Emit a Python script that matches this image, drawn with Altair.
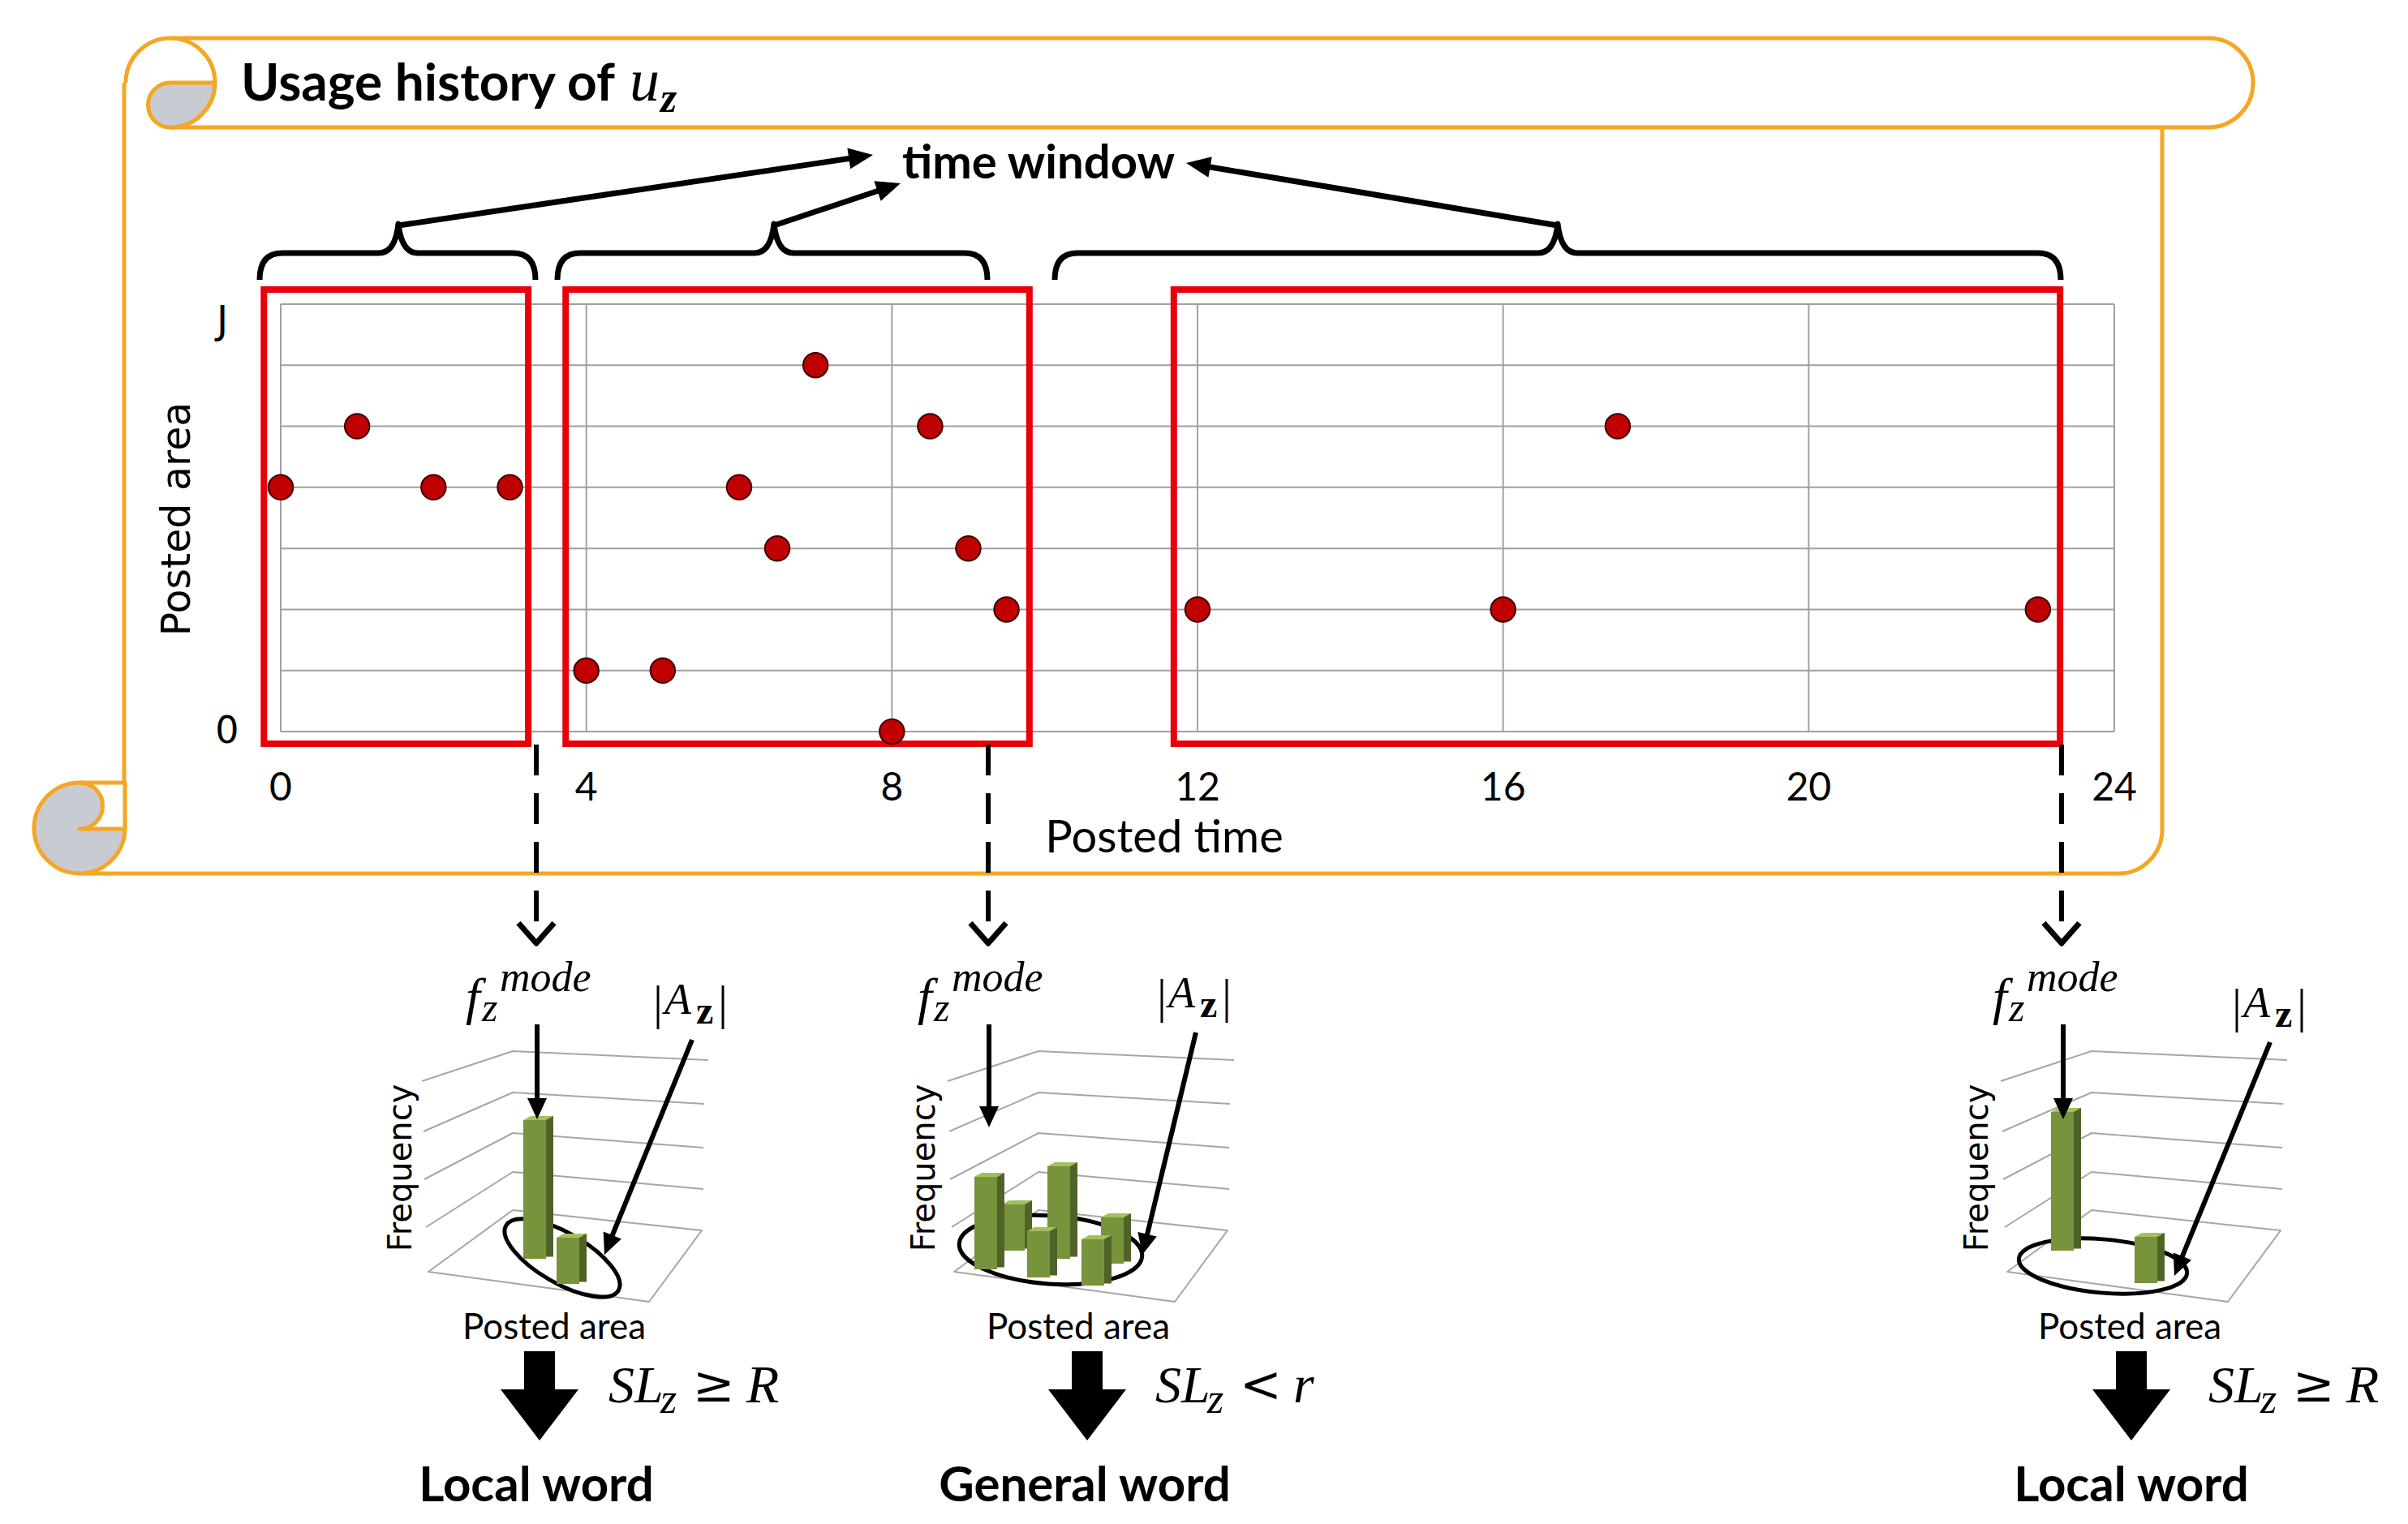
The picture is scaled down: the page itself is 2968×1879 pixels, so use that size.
import math
import altair as alt
import pandas as pd

# ---------------- chart values ----------------
post_time = [0, 1, 2, 3, 4, 5, 6, 6.5, 7, 8, 8.5, 9, 9.5, 12, 16, 17.5, 23]
post_area = [4, 5, 4, 4, 1, 1, 4, 3, 6, 0, 5, 3, 2, 2, 2, 5, 2]
time_ticks = [0, 4, 8, 12, 16, 20, 24]
time_tick_labels = ["0", "4", "8", "12", "16", "20", "24"]
area_levels = [0, 1, 2, 3, 4, 5, 6, 7]
area_tick_labels = ["0", "J"]
window_start = [-0.22, 3.73, 11.69]
window_end = [3.24, 9.80, 23.29]
window_low, window_high = -0.2, 7.24

freq_local_left = [3, 1]
freq_general = [2, 1, 1, 2, 1, 1]
freq_local_right = [3, 1]
word_labels = ["Local word", "General word", "Local word"]
relations = ["\u2265", "<", "\u2265"]
thresholds = ["R", "r", "R"]

# ---------------- layout / style ----------------
W, H = 2950, 1860
OFF = 8
ORANGE = "#F5A623"
RED = "#E8000B"
GRID = "#A0A0A0"
GREEN, DARK, LIGHT = "#77933C", "#4F6228", "#A2C05E"
TXT = "Lato"
SERIF = "Liberation Serif"
MATHSYM = "DejaVu Serif"
GEO = "DejaVu Sans"

X_S = alt.Scale(domain=[0, 24], range=[346 - OFF, 2606 - OFF], nice=False, zero=False)
Y_S = alt.Scale(domain=[0, 7], range=[902 - OFF, 375 - OFF], nice=False, zero=False)
PX = alt.Scale(domain=[0, W], range=[0, W], nice=False, zero=False)
LV = 57.0
FLOOR = 1568
Y_F = alt.Scale(domain=[0, 4], range=[FLOOR - OFF, FLOOR - OFF - 4 * LV], nice=False, zero=False)

ONE = alt.Data(values=[{"k": 1}])


def poly(pts, close=False):
    s = "M" + " L".join(f"{x:.1f},{y:.1f}" for x, y in pts)
    return s + (" Z" if close else "")


def arrow_path(x0, y0, x1, y1, w, L, hh):
    d = math.hypot(x1 - x0, y1 - y0)
    ux, uy = (x1 - x0) / d, (y1 - y0) / d
    px, py = -uy, ux
    bx, by = x1 - ux * L, y1 - uy * L
    pts = [(x0 + px * w / 2, y0 + py * w / 2), (bx + px * w / 2, by + py * w / 2),
           (bx + px * hh, by + py * hh), (x1, y1), (bx - px * hh, by - py * hh),
           (bx - px * w / 2, by - py * w / 2), (x0 - px * w / 2, y0 - py * w / 2)]
    return poly(pts, True)


def brace(xl, xr, xc, yb=345, yh=312, yc=276):
    return (f"M{xl},{yb} Q{xl},{yh} {xl+28},{yh} L{xc-24},{yh} Q{xc-4},{yh} {xc},{yc} "
            f"Q{xc+4},{yh} {xc+24},{yh} L{xr-28},{yh} Q{xr},{yh} {xr},{yb}")


def shape_layer(items):
    df = pd.DataFrame(items, columns=["path", "fill", "stroke", "sw"])
    return alt.Chart(df).mark_point(size=4, filled=True, opacity=1, strokeJoin="round",
                                    strokeCap="butt").encode(
        x=alt.value(-OFF), y=alt.value(-OFF),
        shape=alt.Shape("path:N", scale=None),
        fill=alt.Fill("fill:N", scale=None),
        stroke=alt.Stroke("stroke:N", scale=None),
        strokeWidth=alt.StrokeWidth("sw:Q", scale=None),
    )


def txt(s, x, y, size, font=TXT, weight="normal", style="normal", align="left",
        baseline="alphabetic", angle=0):
    return alt.Chart(ONE).mark_text(text=s, font=font, fontSize=size, fontWeight=weight,
                                    fontStyle=style, align=align, baseline=baseline,
                                    angle=angle, color="black").encode(
        x=alt.value(x - OFF), y=alt.value(y - OFF))


layers = []

# ---------- scroll frame ----------
T = "transparent"
layers.append(shape_layer([
    ("M153,102 L153,1022", T, ORANGE, 5),
    ("M98,1077 L2611,1077 A54,54,0,0,0,2665,1023 L2665,157", T, ORANGE, 5),
    ("M210,47 L2722,47 A55,55,0,0,1,2722,157 L210,157", T, ORANGE, 5),
    ("M155,102 A55,55,0,0,1,265,102", T, ORANGE, 5),
    ("M210,102 L265,102 A55,55,0,0,1,210,157 A27.5,27.5,0,0,1,210,102 Z", "#C9CBD2", ORANGE, 5),
    ("M42,1021 A56,56,0,1,1,154,1021 A56,56,0,1,1,42,1021 Z", "#C9CBD2", ORANGE, 5),
    ("M98,965 L154,965 L154,1022 L98,1022 A28.5,28.5,0,0,0,98,965 Z", "white", ORANGE, 5),
]))

# ---------- scatter: grid, windows, points ----------
grid_v = pd.DataFrame({"t": time_ticks, "lo": area_levels[0], "hi": area_levels[-1]})
layers.append(alt.Chart(grid_v).mark_rule(color=GRID, strokeWidth=2).encode(
    x=alt.X("t:Q", scale=X_S, axis=None),
    y=alt.Y("lo:Q", scale=Y_S, axis=None), y2="hi:Q"))
grid_h = pd.DataFrame({"v": area_levels, "lo": time_ticks[0], "hi": time_ticks[-1]})
layers.append(alt.Chart(grid_h).mark_rule(color=GRID, strokeWidth=2).encode(
    y=alt.Y("v:Q", scale=Y_S, axis=None),
    x=alt.X("lo:Q", scale=X_S, axis=None), x2="hi:Q"))

win = pd.DataFrame({"s": window_start, "e": window_end, "lo": window_low, "hi": window_high})
layers.append(alt.Chart(win).mark_rect(fill="transparent", stroke=RED, strokeWidth=8).encode(
    x=alt.X("s:Q", scale=X_S, axis=None), x2="e:Q",
    y=alt.Y("lo:Q", scale=Y_S, axis=None), y2="hi:Q"))

pts = pd.DataFrame({"time": post_time, "area": post_area})
layers.append(alt.Chart(pts).mark_point(shape="circle", filled=True, size=930, fill="#C00000",
                                        stroke="#3A0000", strokeWidth=2, opacity=1).encode(
    x=alt.X("time:Q", scale=X_S, axis=None),
    y=alt.Y("area:Q", scale=Y_S, axis=None)))

ticks = pd.DataFrame({"t": time_ticks, "lab": time_tick_labels})
layers.append(alt.Chart(ticks).mark_text(font=TXT, fontSize=48, baseline="middle",
                                         align="center", color="black").encode(
    x=alt.X("t:Q", scale=X_S, axis=None), y=alt.value(973 - OFF), text="lab:N"))

ylab0 = pd.DataFrame({"v": [area_levels[0]], "lab": [area_tick_labels[0]]})
ylab1 = pd.DataFrame({"v": [area_levels[-1]], "lab": [area_tick_labels[1]]})
layers.append(alt.Chart(ylab0).mark_text(font=GEO, fontSize=46, baseline="middle",
                                         align="center", color="black").encode(
    y=alt.Y("v:Q", scale=Y_S, axis=None), x=alt.value(280 - OFF), text="lab:N"))
layers.append(alt.Chart(ylab1).mark_text(font=GEO, fontSize=48, baseline="middle",
                                         align="center", color="black", dy=22).encode(
    y=alt.Y("v:Q", scale=Y_S, axis=None), x=alt.value(274 - OFF), text="lab:N"))

layers.append(txt("Posted time", 1435, 1034, 56, align="center", baseline="middle"))
layers.append(txt("Posted area", 219, 640, 49, font=GEO, align="center", baseline="middle", angle=270))

# ---------- title ----------
layers.append(txt("Usage history of", 297, 124, 64, weight="bold"))
layers.append(txt("u", 776, 124, 74, font=SERIF, style="italic"))
layers.append(txt("z", 814, 138, 52, font=SERIF, style="italic", weight="bold"))
layers.append(txt("time window", 1280, 220, 58, weight="bold", align="center"))

# ---------- braces, arrows, dashed connectors ----------
B = "black"
layers.append(shape_layer([
    (brace(320, 660, 491), T, B, 7),
    (brace(687, 1217, 954), T, B, 7),
    (brace(1300, 2540, 1920), T, B, 7),
    (arrow_path(491, 278, 1076, 191, 7, 30, 13), B, T, 0),
    (arrow_path(954, 278, 1110, 226, 7, 30, 13), B, T, 0),
    (arrow_path(1920, 278, 1462, 201, 7, 30, 13), B, T, 0),
]))
dash_x = [661, 1218, 2541]
for dx in dash_x:
    layers.append(alt.Chart(ONE).mark_rule(color=B, strokeWidth=6, strokeDash=[38, 22]).encode(
        x=alt.value(dx - OFF), y=alt.value(918 - OFF), y2=alt.value(1158 - OFF)))
layers.append(shape_layer([
    (poly([(x - 22, 1138), (x, 1163), (x + 22, 1138)]), T, B, 7) for x in dash_x
]))

# ---------- mini 3-D frequency charts ----------
FL = [(520, 1333), (522, 1395), (523, 1454), (525, 1513)]
BL = [(632, 1296), (632, 1347), (632, 1397), (632, 1445)]
BR = [(873, 1307), (868, 1361), (867, 1415), (867, 1466)]
FLOOR_Q = [(528, 1568), (632, 1492), (865, 1517), (800, 1605)]
chart_dx = [0, 648, 1946]
grid_items = []
for ox in chart_dx:
    for k in range(4):
        grid_items.append((poly([(FL[k][0] + ox, FL[k][1]), (BL[k][0] + ox, BL[k][1]),
                                 (BR[k][0] + ox, BR[k][1])]), T, "#A6A6A6", 2))
    grid_items.append((poly([(x + ox, y) for x, y in FLOOR_Q], True), T, "#A6A6A6", 2))
layers.append(shape_layer(grid_items))

ell = pd.DataFrame({
    "cx": [693 - OFF, 1295 - OFF, 2592 - OFF], "cy": [1551 - OFF, 1541 - OFF, 1561 - OFF],
    "path": [f"M{-a},0 A{a},{b},0,1,0,{a},0 A{a},{b},0,1,0,{-a},0 Z"
             for a, b in [(80, 31), (113, 42), (104, 33)]],
    "ang": [30, 4, 5]})
layers.append(alt.Chart(ell).mark_point(size=4, filled=True, fill="transparent", stroke=B,
                                        strokeWidth=5, opacity=1).encode(
    x=alt.X("cx:Q", scale=None), y=alt.Y("cy:Q", scale=None),
    shape=alt.Shape("path:N", scale=None), angle=alt.Angle("ang:Q", scale=None)))

bar_layout = [
    ([(645, 1552), (686, 1583)], freq_local_left),
    ([(1201, 1565), (1235, 1542), (1266, 1575), (1291, 1552), (1333, 1585), (1357, 1558)], freq_general),
    ([(2528, 1542), (2631, 1582)], freq_local_right),
]
BW, SDX, SDY = 28, 9, 5
TOP_FACE = f"M0,0 L{BW},0 L{BW+SDX},{-SDY} L{SDX},{-SDY} Z"


def bar_layers(xl, base_ref, f):
    b = (FLOOR - base_ref) / LV
    t = b + f
    sd = SDY / LV
    out = []
    front = pd.DataFrame({"x1": [xl - OFF], "x2": [xl + BW - OFF], "lo": [b], "hi": [t]})
    out.append(alt.Chart(front).mark_rect(color=GREEN, opacity=1).encode(
        x=alt.X("x1:Q", scale=PX, axis=None), x2="x2:Q",
        y=alt.Y("lo:Q", scale=Y_F, axis=None), y2="hi:Q"))
    side = pd.DataFrame({"x1": [xl + BW - OFF], "x2": [xl + BW + SDX - OFF],
                         "lo": [b + sd / 2], "hi": [t + sd]})
    out.append(alt.Chart(side).mark_rect(color=DARK, opacity=1).encode(
        x=alt.X("x1:Q", scale=PX, axis=None), x2="x2:Q",
        y=alt.Y("lo:Q", scale=Y_F, axis=None), y2="hi:Q"))
    top = pd.DataFrame({"x1": [xl - OFF], "hi": [t]})
    out.append(alt.Chart(top).mark_point(size=4, filled=True, shape=TOP_FACE, fill=LIGHT,
                                         strokeWidth=0, opacity=1).encode(
        x=alt.X("x1:Q", scale=PX, axis=None),
        y=alt.Y("hi:Q", scale=Y_F, axis=None)))
    return out


for lay, freqs in bar_layout:
    items = sorted(zip(lay, freqs), key=lambda it: it[0][1])
    for (xl, base), f in items:
        layers.extend(bar_layers(xl, base, f))

f_arrows = [(662, 1380), (1219, 1390), (2543, 1380)]
a_arrows = [((853, 1282), (745, 1547)), ((1474, 1273), (1408, 1547)), ((2798, 1285), (2680, 1573))]
arrow_items = []
for (x, tip) in f_arrows:
    arrow_items.append((arrow_path(x, 1263, x, tip, 6, 26, 12), B, T, 0))
for (s, e) in a_arrows:
    arrow_items.append((arrow_path(s[0], s[1], e[0], e[1], 6, 26, 12), B, T, 0))
for c in [665, 1340, 2627]:
    arrow_items.append((poly([(c - 19, 1666), (c + 19, 1666), (c + 19, 1713), (c + 48, 1713),
                              (c, 1776), (c - 48, 1713), (c - 19, 1713)], True), B, T, 0))
layers.append(shape_layer(arrow_items))

# ---------- mini-chart texts ----------
f_off = [0, 557, 1882]
a_off = [0, 621, 1946]
a_dy = [0, -8, 4]
freq_cx = [495, 1140, 2438]
area_cx = [683, 1329, 2625]
sl_x0 = [750, 1424, 2722]
word_cx = [661, 1337, 2627]
for i in range(3):
    fo, ao, ady = f_off[i], a_off[i], a_dy[i]
    layers.append(txt("f", 574 + fo, 1250, 64, font=SERIF, style="italic"))
    layers.append(txt("z", 594 + fo, 1259, 50, font=SERIF, style="italic"))
    layers.append(txt("mode", 616 + fo, 1222, 52, font=SERIF, style="italic"))
    layers.append(txt("|", 805 + ao, 1256 + ady, 60, font=SERIF))
    layers.append(txt("A", 819 + ao, 1250 + ady, 54, font=SERIF, style="italic"))
    layers.append(txt("z", 858 + ao, 1262 + ady, 48, font=SERIF, weight="bold"))
    layers.append(txt("|", 885 + ao, 1256 + ady, 60, font=SERIF))
    layers.append(txt("Frequency", freq_cx[i], 1440, 40, font=GEO, align="center",
                      baseline="middle", angle=270))
    layers.append(txt("Posted area", area_cx[i], 1638, 44, align="center", baseline="middle"))
    x0 = sl_x0[i]
    layers.append(txt("SL", x0, 1729, 64, font=SERIF, style="italic"))
    layers.append(txt("z", x0 + 64, 1742, 52, font=SERIF, style="italic"))
    layers.append(txt(relations[i], x0 + 104, 1728, 62, font=MATHSYM))
    layers.append(txt(thresholds[i], x0 + 170, 1729, 66, font=SERIF, style="italic"))
    layers.append(txt(word_labels[i], word_cx[i], 1851, 60, weight="bold", align="center"))

chart = alt.layer(*layers).properties(
    width=W, height=H, padding=0, background="white",
    autosize=alt.AutoSizeParams(type="none"),
).resolve_scale(x="independent", y="independent").configure_view(stroke=None)

chart.save("out.html", embed_options={"renderer": "svg", "actions": False})
